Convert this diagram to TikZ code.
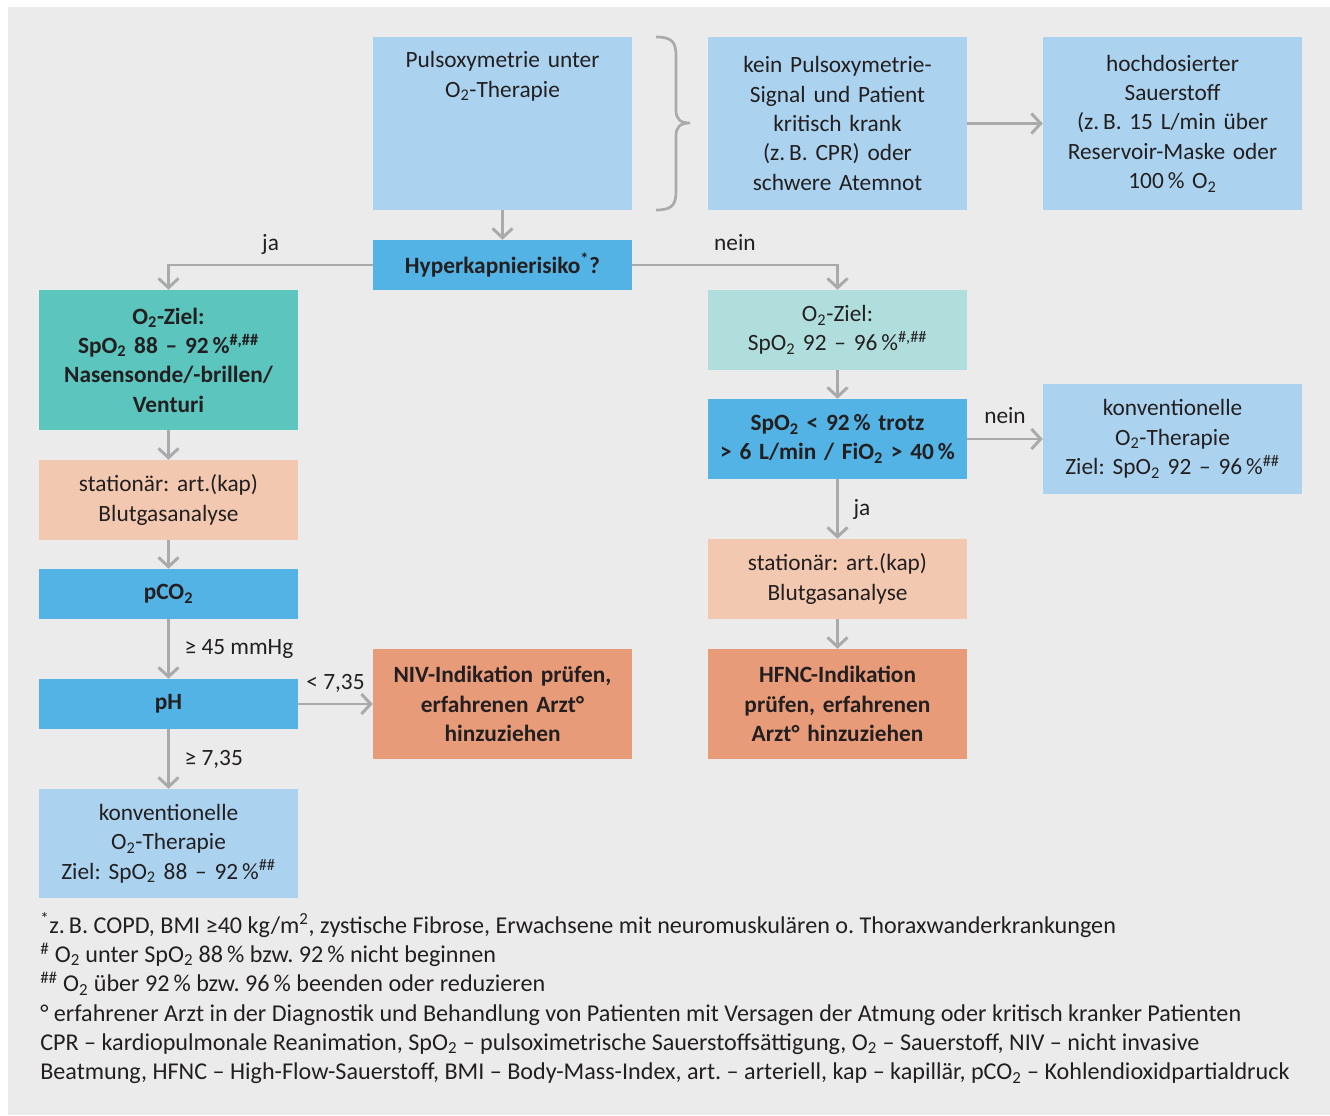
\documentclass[tikz,border=0pt]{standalone}
\usepackage{fontspec}
\setmainfont{Carlito}
\usetikzlibrary{arrows.meta}

\definecolor{bgc}{RGB}{234,235,234}
\definecolor{lblue}{RGB}{171,211,239}
\definecolor{mblue}{RGB}{83,179,228}
\definecolor{teal}{RGB}{91,197,190}
\definecolor{lteal}{RGB}{176,222,220}
\definecolor{peach}{RGB}{242,200,176}
\definecolor{salmon}{RGB}{232,155,120}
\definecolor{lgrey}{RGB}{169,170,172}
\definecolor{txt}{RGB}{35,31,32}

\newcommand{\tsub}[1]{\textsubscript{#1}}
\newcommand{\tsup}[1]{\textsuperscript{#1}}
\frenchspacing

\tikzset{
  box/.style={minimum width=194.25pt, text width=190pt, align=center, inner sep=0pt,
    text=txt, font=\fontsize{17.5}{22}\selectfont},
  boldbox/.style={box, font=\fontsize{17.5}{22}\selectfont\bfseries},
  arr/.style={draw=lgrey, line width=2.2pt, -{Straight Barb[length=7pt,width=15pt]}},
  lab/.style={text=txt, inner sep=0pt, font=\fontsize{17.5}{22}\selectfont},
}

\begin{document}
\begin{tikzpicture}[x=0.75pt,y=0.75pt,yscale=-1]
\useasboundingbox (0,0) rectangle (1330,1115);
%Shape: Rectangle (background)
\fill[bgc] (8,7) rectangle (1330,1115);

%Shape: Rectangle [top row]
\node[box, fill=lblue, minimum height=129.75pt,
  label={[box, anchor=north, yshift=-11pt]north:{Pulsoxymetrie unter\\O\tsub{2}-Therapie}}] (puls) at (502.5,123.5) {};
\node[box, fill=lblue, minimum height=129.75pt] (kein) at (837.5,123.5)
  {kein Pulsoxymetrie-\\Signal und Patient\\kritisch krank\\(z.\,B. CPR) oder\\schwere Atemnot};
\node[box, fill=lblue, minimum height=129.75pt] (hoch) at (1172.5,123.5)
  {hochdosierter\\Sauerstoff\\(z.\,B. 15 L/min über\\Reservoir-Maske oder\\100\,\% O\tsub{2}};

%Shape: Brace
\draw[lgrey, line width=2pt] (656,37) .. controls (672,37) and (676,42) .. (676,56) -- (676,110)
  .. controls (676,119) and (680,123) .. (690,123)
  .. controls (680,123) and (676,127) .. (676,136) -- (676,191)
  .. controls (676,205) and (672,210) .. (656,210);

%Shape: Rectangle [decision]
\node[boldbox, fill=mblue, minimum height=37.5pt] (hyper) at (502.5,265)
  {Hyperkapnierisiko\tsup{*}?};

%Shape: Rectangle [left column]
\node[boldbox, fill=teal, minimum height=105pt] (zielA) at (168.5,360)
  {O\tsub{2}-Ziel:\\SpO\tsub{2} 88 -- 92\,\%\tsup{\#,\#\#}\\Nasensonde/-brillen/\\Venturi};
\node[box, fill=peach, minimum height=60pt] (bgaA) at (168.5,500)
  {stationär: art.(kap)\\Blutgasanalyse};
\node[boldbox, fill=mblue, minimum height=37.5pt] (pco) at (168.5,594)
  {pCO\tsub{2}};
\node[boldbox, fill=mblue, minimum height=37.5pt] (ph) at (168.5,704)
  {pH};
\node[box, fill=lblue, minimum height=81.75pt] (konvA) at (168.5,843.5)
  {konventionelle\\O\tsub{2}-Therapie\\Ziel: SpO\tsub{2} 88 -- 92\,\%\tsup{\#\#}};
\node[boldbox, fill=salmon, minimum height=82.5pt] (niv) at (502.5,704)
  {NIV-Indikation prüfen,\\erfahrenen Arzt°\\hinzuziehen};

%Shape: Rectangle [right column]
\node[box, fill=lteal, minimum height=60pt] (zielB) at (837.5,330)
  {O\tsub{2}-Ziel:\\SpO\tsub{2} 92 -- 96\,\%\tsup{\#,\#\#}};
\node[boldbox, fill=mblue, minimum height=60pt] (spo) at (837.5,439)
  {SpO\tsub{2} < 92\,\% trotz\\> 6 L/min / FiO\tsub{2} > 40\,\%};
\node[box, fill=lblue, minimum height=82.5pt] (konvB) at (1172.5,439)
  {konventionelle\\O\tsub{2}-Therapie\\Ziel: SpO\tsub{2} 92 -- 96\,\%\tsup{\#\#}};
\node[box, fill=peach, minimum height=60pt] (bgaB) at (837.5,579)
  {stationär: art.(kap)\\Blutgasanalyse};
\node[boldbox, fill=salmon, minimum height=82.5pt] (hfnc) at (837.5,704)
  {HFNC-Indikation\\prüfen, erfahrenen\\Arzt° hinzuziehen};

%Straight Lines
\draw[arr] (puls) -- (hyper);
\draw[arr] (kein) -- (hoch);
\draw[arr] (hyper.west) -| node[lab, pos=0.25, anchor=base, yshift=11pt] {ja} (zielA.north);
\draw[arr] (hyper.east) -| node[lab, pos=0.25, anchor=base, yshift=11pt] {nein} (zielB.north);
\draw[arr] (zielA) -- (bgaA);
\draw[arr] (bgaA) -- (pco);
\draw[arr] (pco) -- node[lab, anchor=west, xshift=11pt] {≥ 45 mmHg} (ph);
\draw[arr] (ph) -- node[lab, anchor=west, xshift=11pt] {≥ 7,35} (konvA);
\draw[arr] (ph) -- node[lab, anchor=base, yshift=11pt] {< 7,35} (niv);
\draw[arr] (zielB) -- (spo);
\draw[arr] (spo) -- node[lab, anchor=base, yshift=12pt] {nein} (konvB);
\draw[arr] (spo) -- node[lab, anchor=west, xshift=11pt] {ja} (bgaB);
\draw[arr] (bgaB) -- (hfnc);

% Text Node
\node[lab, anchor=north west, align=left, font=\fontsize{18.1}{22}\selectfont] (notes) at (40,912.5)
  {\tsup{*}z.\,B. COPD, BMI ≥40 kg/m\tsup{2}, zystische Fibrose, Erwachsene mit neuromuskulären o. Thoraxwanderkrankungen\\
   \tsup{\#} O\tsub{2} unter SpO\tsub{2} 88\,\% bzw. 92\,\% nicht beginnen\\
   \tsup{\#\#} O\tsub{2} über 92\,\% bzw. 96\,\% beenden oder reduzieren\\
   ° erfahrener Arzt in der Diagnostik und Behandlung von Patienten mit Versagen der Atmung oder kritisch kranker Patienten\\
   CPR -- kardiopulmonale Reanimation, SpO\tsub{2} -- pulsoximetrische Sauerstoffsättigung, O\tsub{2} -- Sauerstoff, NIV -- nicht invasive\\
   Beatmung, HFNC -- High-Flow-Sauerstoff, BMI -- Body-Mass-Index, art. -- arteriell, kap -- kapillär, pCO\tsub{2} -- Kohlendioxidpartialdruck};

\end{tikzpicture}
\end{document}
